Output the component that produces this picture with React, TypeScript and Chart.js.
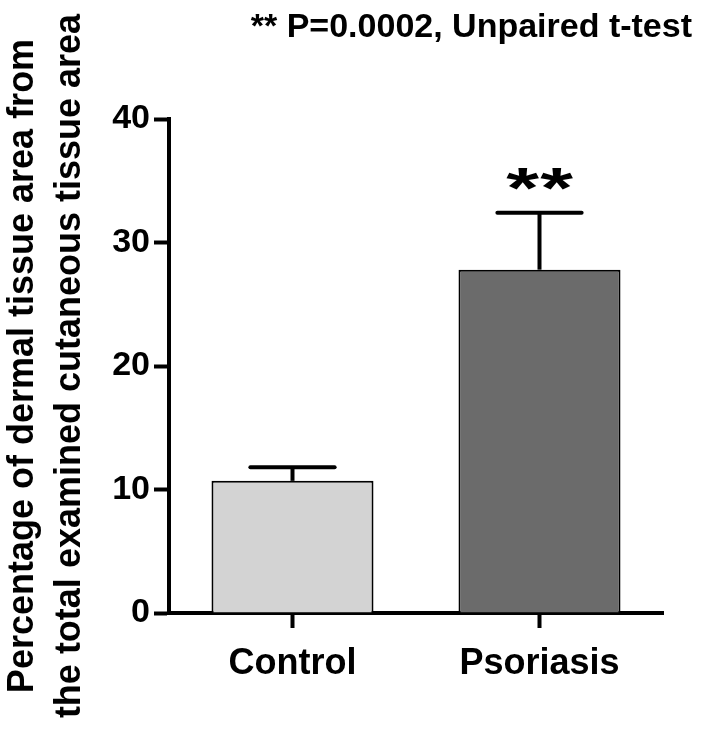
import React, { useEffect, useRef } from "react";
import { Chart, registerables } from "chart.js";

Chart.register(...registerables);

const categories = ["Control", "Psoriasis"];
const meanValues = [10.7, 27.8];
const semValues = [1.1, 4.6];
const significance = ["", "**"];
const barColors = ["#d3d3d3", "#6b6b6b"];
const yTickMin = 0;
const yTickMax = 40;
const yTickStep = 10;
const chartTitle = "** P=0.0002, Unpaired t-test";
const yTitleLines = [
  "Percentage of dermal tissue area from",
  "the total examined cutaneous tissue area",
];

const FONT = '"Liberation Sans", Arial, Helvetica, sans-serif';

const errorBarPlugin = {
  id: "errorBars",
  afterDatasetsDraw(chart: any) {
    const ctx = chart.ctx;
    const meta = chart.getDatasetMeta(0);
    const yScale = chart.scales.y;
    ctx.save();
    ctx.strokeStyle = "#000";
    ctx.lineWidth = 4;
    meta.data.forEach((bar: any, i: number) => {
      const x = bar.x;
      const yTop = yScale.getPixelForValue(meanValues[i] + semValues[i]);
      const yBar = yScale.getPixelForValue(meanValues[i]);
      const half = bar.width * 0.26;
      ctx.lineCap = "butt";
      ctx.beginPath();
      ctx.moveTo(x, yBar);
      ctx.lineTo(x, yTop);
      ctx.stroke();
      ctx.lineCap = "round";
      ctx.beginPath();
      ctx.moveTo(x - half, yTop);
      ctx.lineTo(x + half, yTop);
      ctx.stroke();
      // significance stars
      const sig = significance[i];
      if (sig) {
        ctx.fillStyle = "#000";
        ctx.font = "bold 58px " + FONT;
        ctx.textAlign = "center";
        ctx.textBaseline = "alphabetic";
        const m = ctx.measureText("*");
        const desc = m.actualBoundingBoxDescent || 0;
        const inkBottom = yTop - 23;
        const n = sig.length;
        for (let k = 0; k < n; k++) {
          const cx = x + (k - (n - 1) / 2) * 34;
          ctx.save();
          ctx.translate(cx, inkBottom - desc);
          ctx.scale(1.45, 1);
          ctx.fillText("*", 0, 0);
          ctx.restore();
        }
      }
    });
    ctx.restore();
  },
  afterDraw(chart: any) {
    const ctx = chart.ctx;
    ctx.save();
    ctx.fillStyle = "#000";
    ctx.font = "bold 34px " + FONT;
    ctx.textAlign = "right";
    ctx.textBaseline = "alphabetic";
    ctx.fillText(chartTitle, 692, 37);
    ctx.restore();
  },
};

export default function App() {
  const canvasRef = useRef<HTMLCanvasElement | null>(null);

  useEffect(() => {
    document.body.style.margin = "0";
    const canvas = canvasRef.current;
    if (!canvas) return;
    const chart = new Chart(canvas, {
      type: "bar",
      data: {
        labels: categories,
        datasets: [
          {
            data: meanValues,
            backgroundColor: barColors,
            borderColor: "#000",
            borderWidth: 2,
            barPercentage: 0.656,
            categoryPercentage: 1,
          },
        ],
      },
      options: {
        responsive: false,
        animation: false,
        layout: { padding: { top: 119, right: 39, left: 0, bottom: 0 } },
        plugins: {
          legend: { display: false },
          tooltip: { enabled: false },
          title: { display: false },
        },
        scales: {
          x: {
            type: "category",
            offset: true,
            afterFit(scale: any) {
              scale.height = 121;
            },
            grid: {
              offset: false,
              drawOnChartArea: false,
              drawTicks: true,
              tickLength: 15,
              tickWidth: 4,
              tickColor: "#000",
            },
            border: { display: true, color: "#000", width: 4 },
            ticks: {
              color: "#000",
              padding: 14,
              font: { family: FONT, size: 36, weight: "bold" },
              maxRotation: 0,
            },
          },
          y: {
            min: yTickMin,
            max: yTickMax,
            afterFit(scale: any) {
              scale.width = 169;
            },
            grid: {
              drawOnChartArea: false,
              drawTicks: true,
              tickLength: 15,
              tickWidth: 4,
              tickColor: "#000",
            },
            border: { display: true, color: "#000", width: 4 },
            ticks: {
              stepSize: yTickStep,
              color: "#000",
              padding: 4,
              font: { family: FONT, size: 34, weight: "bold" },
            },
            title: {
              display: true,
              text: yTitleLines,
              color: "#000",
              padding: 0,
              font: { family: FONT, size: 36, weight: "bold", lineHeight: 1.3 },
            },
          },
        },
      },
      plugins: [errorBarPlugin],
    } as any);
    return () => chart.destroy();
  }, []);

  return (
    <div style={{ position: "absolute", left: 0, top: 0, width: 702, height: 734 }}>
      <canvas ref={canvasRef} width={702} height={734} style={{ display: "block" }} />
    </div>
  );
}
